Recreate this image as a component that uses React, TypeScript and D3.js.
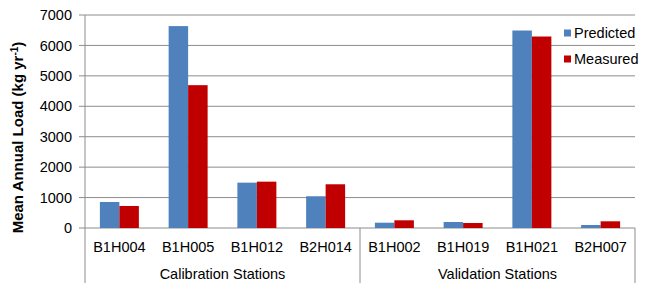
import React from 'react'
import * as d3 from 'd3'

const STATIONS = ['B1H004', 'B1H005', 'B1H012', 'B2H014', 'B1H002', 'B1H019', 'B1H021', 'B2H007']
const PREDICTED = [855, 6635, 1490, 1043, 174, 197, 6490, 99]
const MEASURED = [724, 4694, 1523, 1437, 253, 164, 6293, 220]
const SERIES = ['Predicted', 'Measured']
const COLORS = ['#4F81BD', '#C00000']
const GROUPS = ['Calibration Stations', 'Validation Stations']
const GROUP_SIZES = [4, 4]
const Y_TICKS = [0, 1000, 2000, 3000, 4000, 5000, 6000, 7000]

const W = 651
const H = 283
const margin = { top: 15, right: 16, bottom: 55, left: 85 }
const FONT = 'Liberation Sans, Arial, sans-serif'

export default function App() {
  const y = d3.scaleLinear().domain([0, 7000]).range([H - margin.bottom, margin.top])
  const x = d3.scaleBand().domain(STATIONS).range([margin.left, W - margin.right]).paddingInner(0).paddingOuter(0)
  const xs = d3.scaleBand().domain(SERIES).range([0, x.bandwidth()]).paddingInner(0).paddingOuter(0.763)
  const values = [PREDICTED, MEASURED]
  const y0 = y(0)

  // group boundaries along the category axis
  let start = 0
  const groups = GROUPS.map((name, i) => {
    const cats = STATIONS.slice(start, start + GROUP_SIZES[i])
    start += GROUP_SIZES[i]
    const x1 = x(cats[0])!
    const x2 = x(cats[cats.length - 1])! + x.bandwidth()
    return { name, x1, x2 }
  })

  return (
    <svg width={W} height={H} style={{ position: 'absolute', left: 0, top: 0, background: '#fff' }} fontFamily={FONT}>
      {/* gridlines + ticks */}
      {Y_TICKS.map(t => (
        <g key={t}>
          <line x1={margin.left - 6} x2={W - margin.right} y1={y(t)} y2={y(t)} stroke="#8c8c8c" strokeWidth={1} />
          <text x={margin.left - 13} y={y(t)} dy="0.35em" textAnchor="end" fontSize={14.5} fill="#000">{t}</text>
        </g>
      ))}

      {/* bars */}
      {STATIONS.map((s, i) => (
        <g key={s}>
          {SERIES.map((ser, j) => (
            <rect
              key={ser}
              x={x(s)! + xs(ser)!}
              y={y(values[j][i])}
              width={xs.bandwidth()}
              height={y0 - y(values[j][i])}
              fill={COLORS[j]}
            />
          ))}
          <text x={x(s)! + x.bandwidth() / 2} y={y0 + 24} textAnchor="middle" fontSize={14.5} fill="#000">{s}</text>
        </g>
      ))}

      {/* left axis */}
      <line x1={margin.left} x2={margin.left} y1={margin.top} y2={H} stroke="#8c8c8c" />

      {/* group separators and labels */}
      {groups.map(g => (
        <g key={g.name}>
          <line x1={g.x2} x2={g.x2} y1={y0} y2={H} stroke="#8c8c8c" />
          <text x={(g.x1 + g.x2) / 2} y={y0 + 51} textAnchor="middle" fontSize={14.5} fill="#000">{g.name}</text>
        </g>
      ))}

      {/* y axis title */}
      <text transform={`translate(23,${(margin.top + y0) / 2 + 16}) rotate(-90)`} textAnchor="middle" fontSize={15} fontWeight="bold" fill="#000">
        Mean Annual Load (kg yr<tspan dy={-5} fontSize={10}>-1</tspan><tspan dy={5}>)</tspan>
      </text>

      {/* legend */}
      {SERIES.map((ser, j) => (
        <g key={ser} transform={`translate(564,${33 + j * 26})`}>
          <rect x={0} y={-3.5} width={7} height={7} fill={COLORS[j]} />
          <text x={10} y={0} dy="0.35em" fontSize={14.5} fill="#000">{ser}</text>
        </g>
      ))}
    </svg>
  )
}
